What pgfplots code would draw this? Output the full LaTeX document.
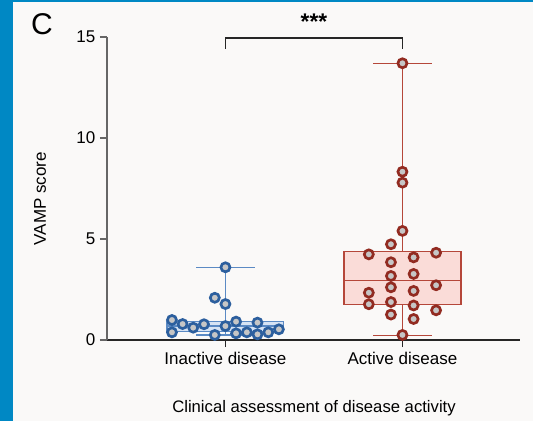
\documentclass[border=0pt]{standalone}
\usepackage{fontspec}
\setmainfont{Liberation Sans}
\usepackage{pgfplots}
\pgfplotsset{compat=1.18}
\usepgfplotslibrary{statistics}

\definecolor{bgcol}{HTML}{FAF9F8}
\definecolor{stripe}{HTML}{0088C4}
\definecolor{inmark}{HTML}{2C5F9E}
\definecolor{inbox}{HTML}{5B8AC4}
\definecolor{inboxfill}{HTML}{D6E3F4}
\definecolor{acmark}{HTML}{922B21}
\definecolor{acbox}{HTML}{B5473A}
\definecolor{acboxfill}{HTML}{FADCD8}
\definecolor{markfill}{HTML}{C6C6C6}

\begin{document}
\begin{tikzpicture}
  % 1 px of the reference = 0.75pt
  \useasboundingbox (0,0) rectangle (399.75pt,-315.75pt);
  \fill[bgcol] (0,0) rectangle (399.75pt,-315.75pt);
  \fill[stripe] (0,0) rectangle (9.75pt,-315.75pt);
  \fill[stripe] (0,0) rectangle (399.75pt,-1.3pt);

  \node[font=\fontsize{22.5}{22.5}\selectfont] at (31.5pt,-18pt) {C};
  \node[rotate=90, font=\fontsize{12.75}{12.75}\selectfont] at (30pt,-149pt) {VAMP score};
  \node[font=\fontsize{12.5}{12.5}\selectfont] at (235.5pt,-306pt) {Clinical assessment of disease activity};

  \begin{axis}[
      at={(80.25pt,-255pt)}, anchor=south west,
      scale only axis,
      width=309.75pt, height=227.25pt,
      xmin=-0.669, xmax=1.664,
      ymin=0, ymax=15,
      axis lines=left,
      axis line style={-},
      x axis line style={black!85, line width=0.9pt},
      y axis line style={black!60, line width=0.9pt},
      tick align=outside,
      major tick length=5.25pt,
      xtick={0,1},
      xticklabels={Inactive disease, Active disease},
      ytick={0,5,10,15},
      x tick style={black!85, line width=0.9pt},
      y tick style={black!60, line width=0.9pt},
      tick label style={font=\fontsize{12.75}{12.75}\selectfont},
      /pgf/number format/assume math mode=true,
      boxplot/draw direction=y,
      clip=false,
    ]
    % boxes
    \addplot[draw=inbox, fill=inboxfill, line width=0.95pt,
      boxplot prepared={median=0.69, lower quartile=0.42, upper quartile=0.91,
        lower whisker=0.25, upper whisker=3.6, draw position=0,
        box extend=0.66, whisker extend=0.33}]
      coordinates {};
    \addplot[draw=acbox, fill=acboxfill, line width=0.95pt,
      boxplot prepared={median=2.94, lower quartile=1.77, upper quartile=4.37,
        lower whisker=0.22, upper whisker=13.7, draw position=1,
        box extend=0.66, whisker extend=0.33}]
      coordinates {};

    % individual patients
    \addplot[only marks, mark=*, mark size=3.4pt, line width=2pt,
      mark options={draw=inmark, fill=markfill, line width=2pt}]
      coordinates {
        (-0.302,0.99) (-0.302,0.38) (-0.242,0.79) (-0.182,0.61)
        (-0.121,0.78) (-0.060,2.09) (-0.060,0.25) (0,3.60) (0,1.78)
        (0,0.69) (0.060,0.91) (0.060,0.33) (0.121,0.38) (0.181,0.86)
        (0.181,0.28) (0.242,0.38) (0.302,0.53)
      };
    \addplot[only marks, mark=*, mark size=3.4pt, line width=2pt,
      mark options={draw=acmark, fill=markfill, line width=2pt}]
      coordinates {
        (0.81,4.24) (0.81,2.34) (0.81,1.77)
        (0.935,4.74) (0.935,3.85) (0.935,3.17) (0.935,2.61) (0.935,1.88) (0.935,1.26)
        (1,13.7) (1,8.33) (1,7.79) (1,5.40) (1,0.25)
        (1.063,4.09) (1.063,3.27) (1.063,2.43) (1.063,1.71) (1.063,1.04)
        (1.19,4.32) (1.19,2.71) (1.19,1.47)
      };

    % significance bracket
    \draw[black!85, line width=0.9pt] (axis cs:0,14.42) |- (axis cs:1,14.95) -- (axis cs:1,14.42);
    \node[font=\fontsize{17}{17}\selectfont\bfseries] at (axis cs:0.5,15.75) {***};
  \end{axis}
\end{tikzpicture}
\end{document}
